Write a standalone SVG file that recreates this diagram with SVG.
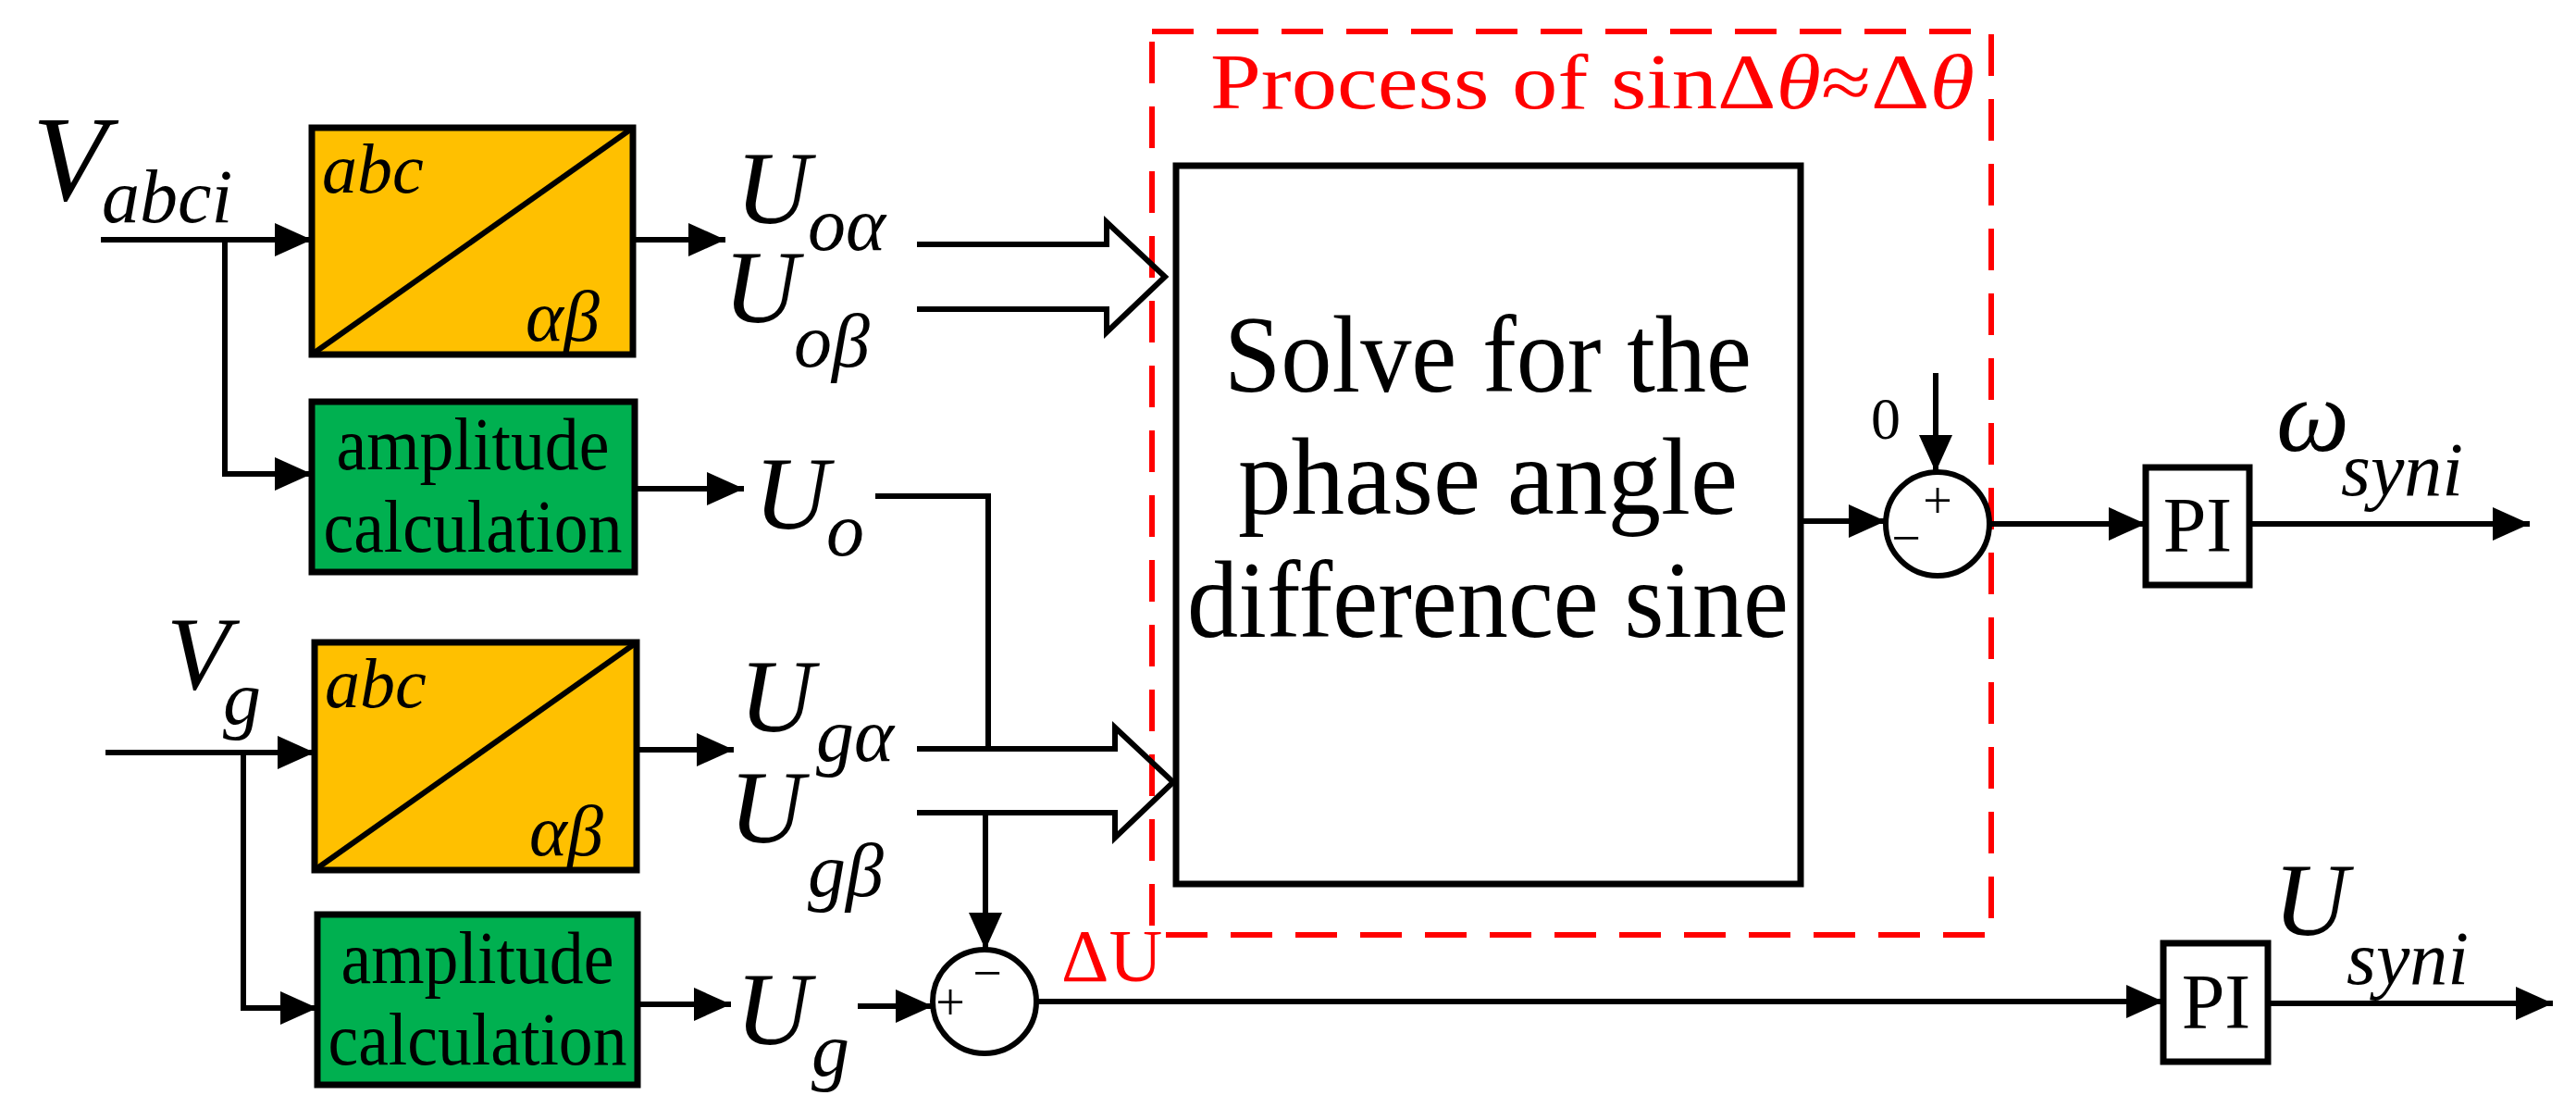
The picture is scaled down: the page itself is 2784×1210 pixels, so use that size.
<svg xmlns="http://www.w3.org/2000/svg" width="2784" height="1210" viewBox="0 0 2784 1210">
<style>
.ln{fill:none;stroke:#000;stroke-width:6}
.bx{stroke:#000;stroke-width:7}
.t{font-family:"Liberation Serif",serif;fill:#000}
.i{font-style:italic}
.red{fill:#f00}
</style>
<defs>
<marker id="ah" markerUnits="userSpaceOnUse" markerWidth="44" markerHeight="44" refX="40" refY="18" orient="auto">
<path d="M0,0 L40,18 L0,36 Z" fill="#000"/>
</marker>
</defs>
<rect width="2784" height="1210" fill="#fff"/>
<g id="region">
<rect x="1245" y="34" width="907" height="976" fill="none" stroke="#f00" stroke-width="6" stroke-dasharray="45,25"/>
<text class="t red" x="1308" y="117" font-size="84" textLength="826" lengthAdjust="spacingAndGlyphs">Process of sinΔ<tspan class="i">θ</tspan>≈Δ<tspan class="i">θ</tspan></text>
</g>
<g id="n_abc1">
<rect class="bx" x="337" y="138" width="347" height="245" fill="#FFC000"/>
<line x1="337" y1="383" x2="684" y2="138" stroke="#000" stroke-width="6"/>
<text class="t i" x="348" y="208" font-size="76">abc</text>
<text class="t i" x="568" y="368" font-size="78">αβ</text>
</g>
<g id="n_amp1">
<rect class="bx" x="337" y="434" width="349" height="184" fill="#00B050"/>
<text class="t" x="511" y="507" font-size="80" text-anchor="middle" textLength="295" lengthAdjust="spacingAndGlyphs">amplitude</text>
<text class="t" x="511" y="596" font-size="80" text-anchor="middle" textLength="323" lengthAdjust="spacingAndGlyphs">calculation</text>
</g>
<g id="n_abc2">
<rect class="bx" x="340" y="694" width="348" height="246" fill="#FFC000"/>
<line x1="340" y1="940" x2="688" y2="694" stroke="#000" stroke-width="6"/>
<text class="t i" x="351" y="764" font-size="76">abc</text>
<text class="t i" x="572" y="924" font-size="78">αβ</text>
</g>
<g id="n_amp2">
<rect class="bx" x="343" y="988" width="346" height="184" fill="#00B050"/>
<text class="t" x="516" y="1062" font-size="80" text-anchor="middle" textLength="295" lengthAdjust="spacingAndGlyphs">amplitude</text>
<text class="t" x="516" y="1150" font-size="80" text-anchor="middle" textLength="323" lengthAdjust="spacingAndGlyphs">calculation</text>
</g>
<g id="n_solve">
<rect class="bx" x="1271" y="179" width="675" height="776" fill="none"/>
<text class="t" x="1608" y="423" font-size="118" text-anchor="middle" textLength="570" lengthAdjust="spacingAndGlyphs">Solve for the</text>
<text class="t" x="1608" y="555" font-size="118" text-anchor="middle" textLength="540" lengthAdjust="spacingAndGlyphs">phase angle</text>
<text class="t" x="1608" y="688" font-size="118" text-anchor="middle" textLength="650" lengthAdjust="spacingAndGlyphs">difference sine</text>
</g>
<g id="n_sum1">
<circle class="ln" cx="2094" cy="566" r="56"/>
<text class="t" x="2094" y="560" font-size="56" text-anchor="middle">+</text>
<text class="t" x="2060" y="600" font-size="56" text-anchor="middle">−</text>
<text class="t" x="2038" y="474" font-size="64" text-anchor="middle">0</text>
</g>
<g id="n_sum2">
<circle class="ln" cx="1064" cy="1082" r="56"/>
<text class="t" x="1027" y="1102" font-size="56" text-anchor="middle">+</text>
<text class="t" x="1067" y="1070" font-size="56" text-anchor="middle">−</text>
<text class="t red" x="1147" y="1060" font-size="80">ΔU</text>
</g>
<g id="n_pi1">
<rect class="bx" x="2319" y="505" width="112" height="127" fill="#fff"/>
<text class="t" x="2375" y="596" font-size="84" text-anchor="middle">PI</text>
</g>
<g id="n_pi2">
<rect class="bx" x="2338" y="1019" width="113" height="128" fill="#fff"/>
<text class="t" x="2395" y="1111" font-size="84" text-anchor="middle">PI</text>
</g>
<g id="labels" class="t i">
<text x="35" y="216" font-size="132">V</text>
<text x="110" y="240" font-size="82">abci</text>
<text x="795" y="241" font-size="112">U</text>
<text x="873" y="270" font-size="82">oα</text>
<text x="782" y="348" font-size="112">U</text>
<text x="858" y="396" font-size="82">oβ</text>
<text x="815" y="571" font-size="112">U</text>
<text x="893" y="600" font-size="82">o</text>
<text x="180" y="744" font-size="112">V</text>
<text x="241" y="782" font-size="82">g</text>
<text x="799" y="790" font-size="112">U</text>
<text x="882" y="822" font-size="82">gα</text>
<text x="788" y="910" font-size="112">U</text>
<text x="873" y="968" font-size="82">gβ</text>
<text x="795" y="1128" font-size="112">U</text>
<text x="877" y="1162" font-size="82">g</text>
<text x="2460" y="487" font-size="112">ω</text>
<text x="2530" y="535" font-size="82">syni</text>
<text x="2457" y="1010" font-size="112">U</text>
<text x="2536" y="1063" font-size="82">syni</text>
</g>
<g id="connectors" class="ln">
<path d="M109,259 H337" marker-end="url(#ah)"/>
<path d="M243,259 V512 H337" marker-end="url(#ah)"/>
<path d="M684,259 H784" marker-end="url(#ah)"/>
<path d="M686,528 H804" marker-end="url(#ah)"/>
<path d="M114,813 H340" marker-end="url(#ah)"/>
<path d="M263,813 V1089 H343" marker-end="url(#ah)"/>
<path d="M688,810 H793" marker-end="url(#ah)"/>
<path d="M689,1085 H790" marker-end="url(#ah)"/>
<path d="M991,264 H1196 V240 L1259,299 L1196,359 V334 H991"/>
<path d="M991,809 H1205 V786 L1268,845 L1205,905 V878 H991"/>
<path d="M946,536 H1068 V809"/>
<path d="M1065,878 V1026" marker-end="url(#ah)"/>
<path d="M927,1087 H1008" marker-end="url(#ah)"/>
<path d="M1120,1082 H2338" marker-end="url(#ah)"/>
<path d="M2451,1084 H2759" marker-end="url(#ah)"/>
<path d="M1946,563 H2038" marker-end="url(#ah)"/>
<path d="M2092,403 V510" marker-end="url(#ah)"/>
<path d="M2150,566 H2319" marker-end="url(#ah)"/>
<path d="M2431,566 H2734" marker-end="url(#ah)"/>
</g>
</svg>
